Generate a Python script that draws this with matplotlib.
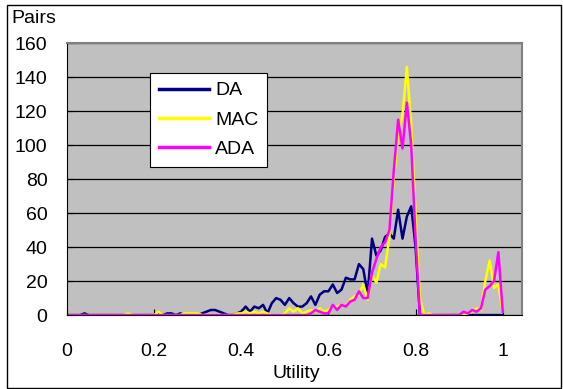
import numpy as np
import matplotlib.pyplot as plt
from matplotlib.patches import Rectangle

plt.rcParams['font.family'] = ['Liberation Sans', 'DejaVu Sans']

utility = [i / 100 for i in range(101)]

da = [0, 0, 0, 0, 1, 0, 0, 0, 0, 0,
      0, 0, 0, 0, 0, 0, 0, 0, 0, 0,
      0, 1, 0, 1, 1, 0, 1, 0, 0, 0,
      0, 1, 2, 3, 3, 2, 1, 0, 0, 1,
      2, 5, 2, 5, 4, 6, 1, 7, 10, 9,
      6, 10, 7, 5, 5, 7, 11, 6, 12, 14,
      14, 18, 13, 15, 22, 21, 21, 30, 27, 12,
      45, 35, 38, 46, 48, 45, 62, 45, 58, 64,
      40, 0, 0, 0, 0, 0, 0, 0, 0, 0,
      0, 0, 0, 0, 0, 0, 0, 0, 0, 0,
      0]

mac = [0, 0, 0, 0, 0, 0, 0, 0, 0, 0,
       0, 0, 0, 0, 1, 0, 0, 0, 0, 0,
       0, 2, 0, 0, 0, 0, 0, 1, 1, 1,
       1, 0, 0, 0, 0, 0, 0, 0, 0, 1,
       1, 2, 1, 2, 1, 2, 1, 0, 0, 0,
       1, 4, 2, 4, 1, 2, 3, 2, 4, 2,
       3, 5, 5, 6, 5, 9, 11, 12, 18, 9,
       24, 19, 30, 28, 46, 80, 105, 118, 146, 112,
       60, 10, 0, 1, 0, 0, 0, 0, 0, 0,
       0, 0, 1, 2, 4, 3, 20, 32, 16, 18,
       2]

ada = [0, 0, 0, 0, 0, 0, 0, 0, 0, 0,
       0, 0, 0, 0, 0, 0, 0, 0, 0, 0,
       0, 0, 0, 0, 0, 0, 0, 0, 0, 0,
       0, 0, 0, 0, 0, 0, 0, 0, 0, 0,
       0, 0, 0, 0, 0, 0, 0, 0, 0, 0,
       0, 0, 0, 0, 0, 0, 1, 3, 2, 1,
       1, 6, 3, 6, 5, 8, 9, 14, 10, 10,
       25, 33, 40, 43, 50, 85, 115, 98, 125, 100,
       45, 0, 0, 0, 0, 0, 0, 0, 0, 0,
       0, 2, 1, 3, 2, 4, 15, 17, 20, 37,
       2]

x_ticks = [0, 0.2, 0.4, 0.6, 0.8, 1]
x_tick_labels = ["0", "0.2", "0.4", "0.6", "0.8", "1"]
y_ticks = [0, 20, 40, 60, 80, 100, 120, 140, 160]

fig = plt.figure(figsize=(5.63, 3.89), dpi=100)
ax = fig.add_axes([0.119, 0.190, 0.808, 0.699])
ax.set_facecolor('#C0C0C0')

ax.plot(utility, da, color='#000080', lw=1.8, label='DA')
ax.plot(utility, mac, color='#FFFF00', lw=1.8, label='MAC')
ax.plot(utility, ada, color='#FF00FF', lw=1.8, label='ADA')

ax.set_xlim(0, 1.044)
ax.set_ylim(0, 160)
ax.set_xticks(x_ticks)
ax.set_xticklabels(x_tick_labels)
ax.set_yticks(y_ticks)
ax.yaxis.grid(True, color='black', lw=0.9)
ax.set_axisbelow(True)
ax.tick_params(axis='both', direction='in', labelsize=14, length=4)
ax.tick_params(axis='x', pad=20)
ax.tick_params(axis='y', pad=14)
for s in ['top', 'right']:
    ax.spines[s].set_color('#808080')
    ax.spines[s].set_linewidth(1.5)
for s in ['left', 'bottom']:
    ax.spines[s].set_color('black')

leg = ax.legend(loc='upper left', bbox_to_anchor=(0.182, 0.89), fontsize=14,
                fancybox=False, framealpha=1, edgecolor='black',
                handlelength=2.6, labelspacing=0.6, borderpad=0.45,
                handletextpad=0.3, borderaxespad=0)
leg.get_frame().set_linewidth(0.8)
for line in leg.get_lines():
    line.set_linewidth(2.5)

fig.text(0.021, 0.952, "Pairs", fontsize=14, va='center', ha='left')
fig.text(0.527, 0.04, "Utility", fontsize=14, va='center', ha='center')

fig.patches.append(Rectangle((0.013, 0.003), 0.983, 0.984, transform=fig.transFigure,
                             fill=False, edgecolor='black', lw=1))

fig.savefig('out.png', dpi=100)
